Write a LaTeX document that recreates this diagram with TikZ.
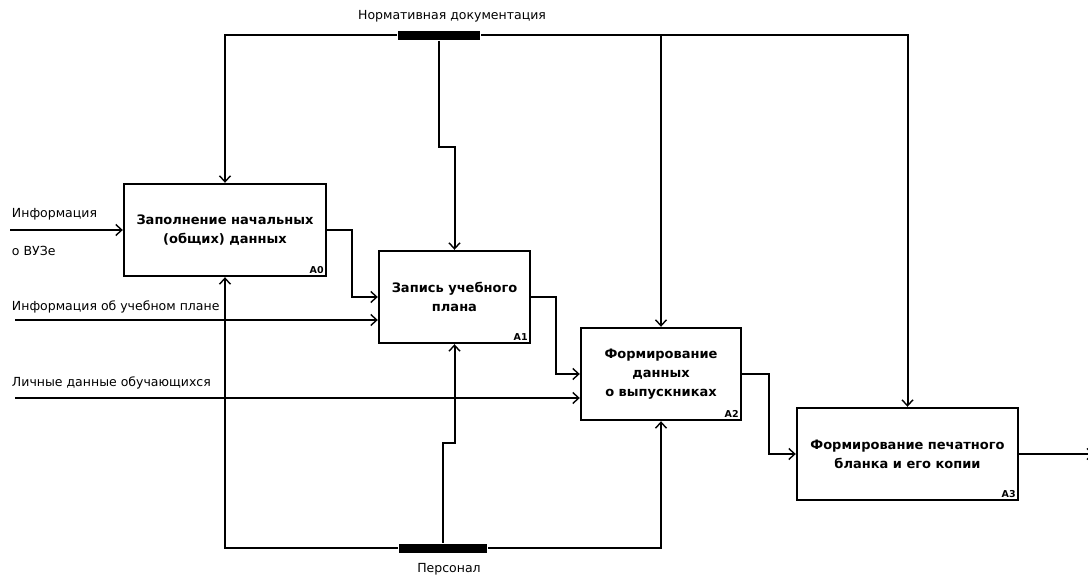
\documentclass[tikz,border=0pt]{standalone}
\usepackage{fontspec}
\setmainfont{DejaVu Sans}
\usetikzlibrary{positioning,arrows.meta}

\begin{document}
\begin{tikzpicture}[x=1pt,y=-1pt,
  line width=2pt,
  >={Straight Barb[length=6pt,width=11pt,line width=1.4pt]},
  funcbox/.style={draw,line width=2.4pt,minimum height=92pt,align=center,
    inner sep=0pt,font=\bfseries\fontsize{13}{19}\selectfont},
  tag/.style={anchor=south east,inner sep=2.5pt,font=\bfseries\fontsize{9.5}{9.5}\selectfont},
  bar/.style={fill=black,minimum height=9pt,inner sep=0pt},
  lbl/.style={inner sep=0pt,font=\fontsize{12.5}{14}\selectfont}
]
\useasboundingbox (0,0) rectangle (1088,575);

% Functions
\node[funcbox,minimum width=202pt] (a0) at (225,230) {Заполнение начальных\\(общих) данных};
\node[tag] at (a0.south east) {A0};
\node[funcbox,minimum width=151pt] (a1) at (454.5,297) {Запись учебного\\плана};
\node[tag] at (a1.south east) {A1};
\node[funcbox,minimum width=160pt] (a2) at (661,374) {Формирование\\данных\\о выпускниках};
\node[tag] at (a2.south east) {A2};
\node[funcbox,minimum width=221pt] (a3) at (907.5,454) {Формирование печатного\\бланка и его копии};
\node[tag] at (a3.south east) {A3};

% Tunnels
\node[bar,minimum width=82pt] (ctrl) at (439,35.5) {};
\node[lbl] (ctrllbl) at (452,16) {Нормативная документация};
\node[bar,minimum width=88pt] (mech) at (443,548) {};
\node[lbl] (mechlbl) at (449,569) {Персонал};

% Inputs
\coordinate (in0) at (10,230);
\coordinate (in1) at (15,320);
\coordinate (in2) at (15,398);
\node[lbl,anchor=west] (in0a) at (11,214) {Информация};
\node[lbl,anchor=west] (in0b) at (11,251) {о ВУЗе};
\node[lbl,anchor=west] (in1lbl) at (11,307) {Информация об учебном плане};
\node[lbl,anchor=west] (in2lbl) at (11,383) {Личные данные обучающихся};
\draw[->] (in0) -- (a0.west);
\draw[->] (in1) -- (in1 -| a1.west);
\draw[->] (in2) -- (in2 -| a2.west);

% Controls
\draw[->] (ctrl.west) -| (a0.north);
\draw[->] (ctrl.east) -| (a2.north);
\draw[->] (ctrl.east) -| (a3.north);
\draw[->] (ctrl.south) -- ++(0,106) -| (a1.north);

% Mechanisms
\draw[->] (mech.west) -| (a0.south);
\draw[->] (mech.east) -| (a2.south);
\draw[->] (mech.north) -- ++(0,-100) -| (a1.south);

% Outputs
\coordinate (out) at (1094,454);
\draw[->] (a0.east) -- ++(25,0) |- (a1.west);
\draw[->] (a1.east) -- ++(25,0) |- (a2.west);
\draw[->] (a2.east) -- ++(27,0) |- (a3.west);
\draw[->] (a3.east) -- (out);
\end{tikzpicture}
\end{document}
